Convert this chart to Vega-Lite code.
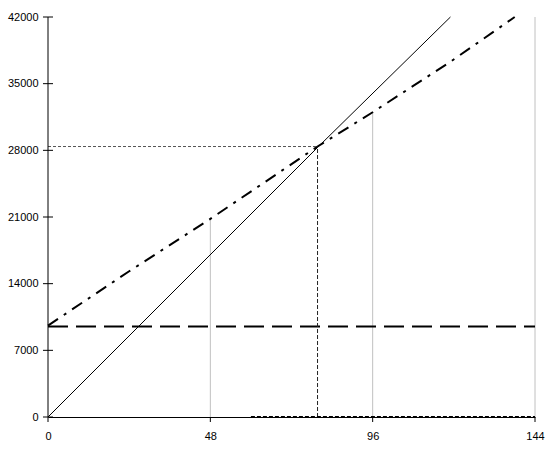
{
  "$schema": "https://vega.github.io/schema/vega-lite/v6.json",
  "width": 487,
  "height": 400,
  "autosize": {"type": "none"},
  "padding": {"left": 48, "top": 17, "right": 19, "bottom": 39},
  "background": "white",
  "config": {
    "view": {"stroke": null},
    "axis": {
      "labelFont": "Liberation Sans, Arial, sans-serif",
      "labelFontSize": 11,
      "labelColor": "black",
      "ticks": false,
      "domainColor": "black",
      "labelFlush": false,
      "labelOverlap": false,
      "grid": false,
      "title": null
    }
  },
  "datasets": {
    "lines": [
      {"series": "solid", "x": 0, "y": 0},
      {"series": "solid", "x": 79.7, "y": 28300},
      {"series": "solid", "x": 119, "y": 42000},
      {"series": "dashdot", "x": 0, "y": 9600},
      {"series": "dashdot", "x": 24, "y": 15300},
      {"series": "dashdot", "x": 48, "y": 20800},
      {"series": "dashdot", "x": 79.7, "y": 28400},
      {"series": "dashdot", "x": 96, "y": 32000},
      {"series": "dashdot", "x": 119, "y": 37300},
      {"series": "dashdot", "x": 138, "y": 42000},
      {"series": "dashed", "x": 0, "y": 9500},
      {"series": "dashed", "x": 144, "y": 9500},
      {"series": "dotted_h", "x": 0, "y": 28400},
      {"series": "dotted_h", "x": 79.7, "y": 28400},
      {"series": "dotted_v", "x": 79.7, "y": 0},
      {"series": "dotted_v", "x": 79.7, "y": 28400},
      {"series": "bottom", "x": 60, "y": 0},
      {"series": "bottom", "x": 144, "y": 0}
    ],
    "drops": [
      {"x": 48, "y0": 0, "y": 20800},
      {"x": 96, "y0": 0, "y": 32000},
      {"x": 144, "y0": 0, "y": 42000}
    ],
    "yaxisline": [
      {"x": 0, "y0": 0, "y": 42000}
    ],
    "yticks": [
      {"v": 0}, {"v": 7000}, {"v": 14000}, {"v": 21000}, {"v": 28000}, {"v": 35000}, {"v": 42000}
    ],
    "xticks": [
      {"v": 0}, {"v": 48}, {"v": 96}, {"v": 144}
    ]
  },
  "layer": [
    {
      "data": {"name": "drops"},
      "mark": {"type": "rule", "color": "#c0c0c0", "strokeWidth": 1},
      "encoding": {
        "x": {"field": "x", "type": "quantitative", "scale": {"domain": [0, 144], "nice": false, "zero": false},
              "axis": {"values": [0, 48, 96, 144], "labelPadding": 13, "domain": true}},
        "y": {"field": "y0", "type": "quantitative", "scale": {"domain": [0, 42000], "nice": false},
              "axis": {"values": [0, 7000, 14000, 21000, 28000, 35000, 42000], "format": "d", "domain": false, "labelPadding": 10}},
        "y2": {"field": "y"}
      }
    },
    {
      "data": {"name": "lines"},
      "transform": [{"filter": "datum.series == 'solid'"}],
      "mark": {"type": "line", "color": "black", "strokeWidth": 1},
      "encoding": {
        "x": {"field": "x", "type": "quantitative"},
        "y": {"field": "y", "type": "quantitative"}
      }
    },
    {
      "data": {"name": "lines"},
      "transform": [{"filter": "datum.series == 'dashdot'"}],
      "mark": {"type": "line", "color": "black", "strokeWidth": 2, "strokeDash": [12, 7, 3, 7], "strokeCap": "butt"},
      "encoding": {
        "x": {"field": "x", "type": "quantitative"},
        "y": {"field": "y", "type": "quantitative"}
      }
    },
    {
      "data": {"name": "lines"},
      "transform": [{"filter": "datum.series == 'dashed'"}],
      "mark": {"type": "line", "color": "black", "strokeWidth": 2, "strokeDash": [20, 8], "strokeCap": "butt"},
      "encoding": {
        "x": {"field": "x", "type": "quantitative"},
        "y": {"field": "y", "type": "quantitative"}
      }
    },
    {
      "data": {"name": "lines"},
      "transform": [{"filter": "datum.series == 'dotted_h'"}],
      "mark": {"type": "line", "color": "#555555", "strokeWidth": 1, "strokeDash": [3, 2], "strokeCap": "butt"},
      "encoding": {
        "x": {"field": "x", "type": "quantitative"},
        "y": {"field": "y", "type": "quantitative"}
      }
    },
    {
      "data": {"name": "lines"},
      "transform": [{"filter": "datum.series == 'dotted_v'"}],
      "mark": {"type": "line", "color": "#222222", "strokeWidth": 1, "strokeDash": [4, 2], "strokeCap": "butt"},
      "encoding": {
        "x": {"field": "x", "type": "quantitative"},
        "y": {"field": "y", "type": "quantitative"},
        "order": {"field": "y", "type": "quantitative"}
      }
    },
    {
      "data": {"name": "lines"},
      "transform": [{"filter": "datum.series == 'bottom'"}],
      "mark": {"type": "line", "color": "black", "strokeWidth": 2, "strokeDash": [4, 2], "strokeCap": "butt"},
      "encoding": {
        "x": {"field": "x", "type": "quantitative"},
        "y": {"field": "y", "type": "quantitative"}
      }
    },
    {
      "data": {"name": "yaxisline"},
      "mark": {"type": "rule", "color": "black", "strokeWidth": 1},
      "encoding": {
        "x": {"field": "x", "type": "quantitative"},
        "y": {"field": "y0", "type": "quantitative"},
        "y2": {"field": "y"}
      }
    },
    {
      "data": {"name": "yticks"},
      "mark": {"type": "rule", "color": "black", "strokeWidth": 1},
      "encoding": {
        "x": {"datum": -1.48, "type": "quantitative"},
        "x2": {"datum": 1.48},
        "y": {"field": "v", "type": "quantitative"}
      }
    },
    {
      "data": {"name": "xticks"},
      "mark": {"type": "rule", "color": "black", "strokeWidth": 1},
      "encoding": {
        "x": {"field": "v", "type": "quantitative"},
        "y": {"datum": 0, "type": "quantitative"},
        "y2": {"datum": -525}
      }
    }
  ]
}
